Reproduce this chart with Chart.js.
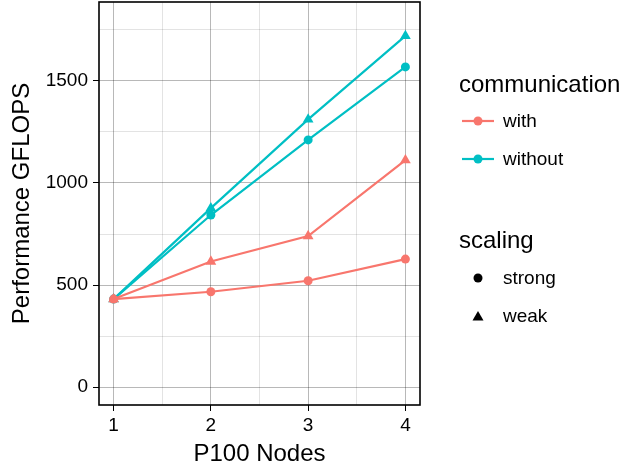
<!DOCTYPE html>
<html>
<head>
<meta charset="utf-8">
<script src="https://cdn.jsdelivr.net/npm/chart.js@4/dist/chart.umd.min.js"></script>
<style>
html,body{margin:0;padding:0;background:#fff;}
#wrap{position:relative;width:625px;height:471px;}
</style>
</head>
<body>
<div id="wrap"><canvas id="c" width="625" height="471"></canvas></div>
<script>
const nodes = [1, 2, 3, 4];
const withStrong = [431, 467, 521, 627];
const withWeak = [431, 615, 740, 1112];
const withoutStrong = [431, 843, 1211, 1569];
const withoutWeak = [431, 877, 1312, 1721];
const xTicks = [1, 1.5, 2, 2.5, 3, 3.5, 4];
const yTicks = [0, 250, 500, 750, 1000, 1250, 1500, 1750];
const xLabels = [1, 2, 3, 4];
const yLabels = [0, 500, 1000, 1500];

const RED = '#F8766D', TEAL = '#00BFC4';
const FONT = '"Liberation Sans", Arial, Helvetica, sans-serif';

function pts(ys) { return nodes.map((n, i) => ({x: n, y: ys[i]})); }
function ds(label, ys, color, style, r) {
  return {label, data: pts(ys), borderColor: color, backgroundColor: color,
    pointStyle: style, pointRadius: r, pointHoverRadius: r, borderWidth: 2.2, pointBorderWidth: 0, tension: 0};
}

const panelBorder = {
  id: 'panelBorder',
  afterDatasetsDraw(chart) {
    const {ctx, chartArea: a} = chart;
    ctx.save();
    ctx.strokeStyle = '#000';
    ctx.lineWidth = 1.6;
    ctx.strokeRect(a.left, a.top, a.right - a.left, a.bottom - a.top);
    ctx.restore();
  }
};

const legendPlugin = {
  id: 'customLegend',
  afterDraw(chart) {
    const ctx = chart.ctx;
    ctx.save();
    ctx.fillStyle = '#000';
    ctx.textAlign = 'left';
    ctx.textBaseline = 'alphabetic';
    ctx.font = '24px ' + FONT;
    ctx.fillText('communication', 459, 92);
    ctx.fillText('scaling', 459, 248);
    ctx.font = '19px ' + FONT;
    ctx.textBaseline = 'middle';
    const items = [['with', RED, 121], ['without', TEAL, 159]];
    items.forEach(([t, c, y]) => {
      ctx.strokeStyle = c; ctx.lineWidth = 2.2;
      ctx.beginPath(); ctx.moveTo(462, y); ctx.lineTo(494, y); ctx.stroke();
      ctx.fillStyle = c;
      ctx.beginPath(); ctx.arc(478, y, 4.5, 0, Math.PI * 2); ctx.fill();
      ctx.fillStyle = '#000';
      ctx.fillText(t, 503, y + 1);
    });
    ctx.fillStyle = '#000';
    ctx.beginPath(); ctx.arc(478, 278, 4.5, 0, Math.PI * 2); ctx.fill();
    ctx.fillText('strong', 503, 279);
    ctx.beginPath();
    ctx.moveTo(478, 311); ctx.lineTo(483.5, 320.5); ctx.lineTo(472.5, 320.5); ctx.closePath(); ctx.fill();
    ctx.fillText('weak', 503, 317);
    ctx.restore();
  }
};

new Chart(document.getElementById('c'), {
  type: 'line',
  data: {
    datasets: [
      ds('with strong', withStrong, RED, 'circle', 4.5),
      ds('with weak', withWeak, RED, 'triangle', 6.2),
      ds('without strong', withoutStrong, TEAL, 'circle', 4.5),
      ds('without weak', withoutWeak, TEAL, 'triangle', 6.2)
    ]
  },
  options: {
    responsive: false,
    devicePixelRatio: 1,
    animation: false,
    layout: {autoPadding: false, padding: {top: 2, right: 205, left: 0, bottom: 0}},
    plugins: {legend: {display: false}, tooltip: {enabled: false}},
    scales: {
      x: {
        type: 'linear', min: 0.85, max: 4.15,
        afterBuildTicks: s => { s.ticks = xTicks.map(v => ({value: v})); },
        afterFit: s => { s.height = 66; s.paddingLeft = 0; s.paddingRight = 0; },
        border: {display: false},
        grid: {
          color: c => xLabels.includes(c.tick.value) ? 'rgba(0,0,0,0.28)' : 'rgba(0,0,0,0.11)',
          tickColor: c => xLabels.includes(c.tick.value) ? '#000' : 'rgba(0,0,0,0)',
          tickLength: 6, lineWidth: 1, tickWidth: 1
        },
        ticks: {
          autoSkip: false, maxRotation: 0, padding: 3, color: '#000',
          font: {family: FONT, size: 19},
          callback: v => xLabels.includes(v) ? String(v) : ''
        },
        title: {display: true, text: 'P100 Nodes', color: '#000', font: {family: FONT, size: 24}, padding: {top: 0, bottom: 2}}
      },
      y: {
        type: 'linear', min: -88, max: 1887,
        afterBuildTicks: s => { s.ticks = yTicks.map(v => ({value: v})); },
        afterFit: s => { s.width = 99; s.paddingTop = 0; s.paddingBottom = 0; },
        border: {display: false},
        grid: {
          color: c => yLabels.includes(c.tick.value) ? 'rgba(0,0,0,0.28)' : 'rgba(0,0,0,0.11)',
          tickColor: c => yLabels.includes(c.tick.value) ? '#000' : 'rgba(0,0,0,0)',
          tickLength: 6, lineWidth: 1, tickWidth: 1
        },
        ticks: {
          autoSkip: false, padding: 5, color: '#000',
          font: {family: FONT, size: 19},
          callback: v => yLabels.includes(v) ? String(v) : ''
        },
        title: {display: true, text: 'Performance GFLOPS', color: '#000', font: {family: FONT, size: 24}, padding: {top: 8, bottom: 0}}
      }
    }
  },
  plugins: [panelBorder, legendPlugin]
});
</script>
</body>
</html>
